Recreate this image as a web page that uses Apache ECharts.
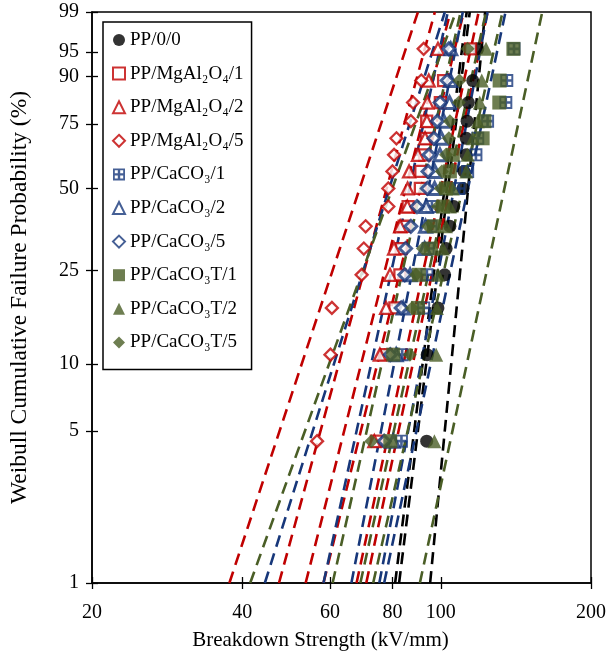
<!DOCTYPE html>
<html><head><meta charset="utf-8">
<script src="https://cdn.jsdelivr.net/npm/echarts@6/dist/echarts.min.js"></script>
<style>html,body{margin:0;padding:0;background:#fff}#c{width:609px;height:664px}</style>
</head><body><div id="c"></div>
<script>
// ---- data (breakdown strength in kV/mm) ----
const seriesNames = ['PP/0/0','PP/MgAl₂O₄/1','PP/MgAl₂O₄/2','PP/MgAl₂O₄/5','PP/CaCO₃/1','PP/CaCO₃/2','PP/CaCO₃/5','PP/CaCO₃T/1','PP/CaCO₃T/2','PP/CaCO₃T/5'];
// cumulative failure probability (%) of each ranked sample
const probLevels = [4.5, 11.0, 17.5, 24.0, 30.5, 37.0, 43.5, 50.0, 56.5, 63.0, 69.5, 76.0, 82.5, 89.0, 95.5];
const pp00   = [93.7, 93.9, 98.7, 101.8, 102.5, 104.3, 106.2, 110.8, 111.3, 112.4, 112.5, 112.9, 113.6, 115.9, 118.6];
const mgal1  = [74.3, 77.7, 80.9, 82.8, 83.3, 84.4, 86.0, 91.0, 91.2, 92.8, 93.5, 93.7, 99.8, 101.3, 114.7];
const mgal2  = [73.6, 75.5, 77.7, 79.1, 80.6, 82.9, 85.7, 85.8, 86.4, 90.0, 93.0, 93.8, 94.0, 94.6, 98.7];
const mgal5  = [56.5, 60.1, 60.5, 69.4, 70.1, 70.7, 78.5, 78.5, 80.0, 80.6, 81.5, 87.1, 88.0, 91.4, 92.4];
const caco1  = [83.4, 83.7, 92.4, 93.8, 94.3, 95.6, 96.0, 108.7, 113.2, 117.6, 118.6, 124.1, 135.0, 135.6, 140.2];
const caco2  = [80.3, 81.4, 84.1, 86.8, 92.8, 93.2, 93.5, 97.2, 97.3, 99.6, 100.3, 101.4, 104.1, 104.6, 104.7];
const caco5  = [77.0, 79.2, 83.3, 84.7, 85.0, 87.1, 89.6, 94.0, 94.3, 94.7, 96.9, 98.4, 99.7, 103.0, 103.8];
const cacoT1 = [79.2, 80.3, 90.0, 90.4, 95.6, 96.9, 101.0, 102.4, 104.3, 105.7, 121.3, 122.3, 131.0, 131.2, 139.8];
const cacoT2 = [97.1, 97.9, 98.2, 98.7, 101.0, 102.4, 104.3, 105.7, 112.5, 113.2, 115.9, 118.6, 119.7, 120.8, 123.2];
const cacoT5 = [72.6, 86.7, 87.6, 89.2, 92.1, 94.3, 98.7, 100.0, 100.5, 102.4, 103.8, 104.3, 108.7, 109.0, 113.2];
// dashed Weibull lines: [strength at 1 %, strength at 99 %]
const linesPP00   = [[81.0, 112.7], [82.5, 114.3], [95.2, 122.7]];
const linesMgal1  = [[58.2, 111.2], [70.9, 124.1]];
const linesMgal2  = [[47.4, 97.3], [67.8, 119.1]];
const linesMgal5  = [[37.7, 90.0], [53.6, 104.5]];
const linesCaco1  = [[75.3, 124.1], [77.0, 134.8]];
const linesCaco2  = [[58.2, 103.3]];
const linesCaco5  = [[44.4, 101.9], [66.2, 110.7]];
const linesCacoT1 = [[69.0, 123.2], [73.2, 133.0]];
const linesCacoT2 = [[90.8, 159.7]];
const linesCacoT5 = [[41.5, 107.2], [60.7, 109.6]];
const lineProbEnds = [1, 99];
const xTickLabels = [20, 40, 60, 80, 100, 200];
const yTickLabels = [1, 5, 10, 25, 50, 75, 90, 95, 99];

// ---- helpers ----
const W = p => Math.log(-Math.log(1 - p / 100));
const L = v => Math.log10(v);
const RED = '#C00000', BLUE = '#17377A', GREEN = '#4A5E26', BLACK = '#000000';
const FONT = '"Liberation Serif","Times New Roman",serif';

const values = [pp00, mgal1, mgal2, mgal5, caco1, caco2, caco5, cacoT1, cacoT2, cacoT5];
const lineSets = [linesPP00, linesMgal1, linesMgal2, linesMgal5, linesCaco1, linesCaco2, linesCaco5, linesCacoT1, linesCacoT2, linesCacoT5];
const colors = [BLACK, RED, RED, RED, BLUE, BLUE, BLUE, GREEN, GREEN, GREEN];
const checker = 'path://M0,0H10V10H0Z M1.5,1.5V4H4V1.5Z M6,1.5V4H8.5V1.5Z M1.5,6V8.5H4V6Z M6,6V8.5H8.5V6Z';
const styles = [
  {symbol: 'circle', size: 13, item: {color: BLACK}},
  {symbol: 'rect', size: 11, item: {color: '#fff', borderColor: RED, borderWidth: 2.3}},
  {symbol: 'triangle', size: 12, item: {color: '#fff', borderColor: RED, borderWidth: 2.3}},
  {symbol: 'diamond', size: 12, item: {color: '#fff', borderColor: RED, borderWidth: 2.3}},
  {symbol: checker, size: 13, item: {color: BLUE}},
  {symbol: 'triangle', size: 12, item: {color: '#fff', borderColor: BLUE, borderWidth: 3}},
  {symbol: 'diamond', size: 12, item: {color: '#fff', borderColor: BLUE, borderWidth: 3}},
  {symbol: 'rect', size: 14, item: {color: GREEN}},
  {symbol: 'triangle', size: 14, item: {color: GREEN}},
  {symbol: 'diamond', size: 14, item: {color: GREEN}}
];

const series = [];
lineSets.forEach((set, si) => {
  set.forEach((ln, li) => {
    series.push({
      type: 'line', name: seriesNames[si] + ' line ' + (li + 1), silent: true, z: 1,
      symbol: 'none', animation: false,
      data: ln.map((v, k) => [L(v), W(lineProbEnds[k])]),
      lineStyle: {color: colors[si], width: 2.6, type: [12, 7]}
    });
  });
});
values.forEach((vals, si) => {
  series.push({
    type: 'scatter', name: seriesNames[si], z: 3, animation: false,
    symbol: styles[si].symbol, symbolSize: styles[si].size,
    itemStyle: styles[si].item,
    data: vals.map((v, i) => [L(v), W(probLevels[i])])
  });
});

const xVals = xTickLabels.map(L), yVals = yTickLabels.map(W);
const xFmt = v => { const i = xVals.findIndex(t => Math.abs(t - v) < 1e-6); return i < 0 ? '' : String(xTickLabels[i]); };
const yFmt = v => { const i = yVals.findIndex(t => Math.abs(t - v) < 1e-6); return i < 0 ? '' : String(yTickLabels[i]); };
const axisLine = {show: true, onZero: false, lineStyle: {color: '#000', width: 1.5}};

const chart = echarts.init(document.getElementById('c'), null, {renderer: 'canvas'});
chart.setOption({
  animation: false,
  backgroundColor: '#fff',
  grid: {left: 92, right: 15, top: 12, bottom: 81, show: true, borderColor: '#000', borderWidth: 1.5, backgroundColor: 'transparent'},
  legend: {
    data: seriesNames, orient: 'vertical', left: 103, top: 22,
    padding: [8, 8, 17, 9], itemGap: 13.6, itemWidth: 12, itemHeight: 12,
    borderColor: '#000', borderWidth: 1.5, backgroundColor: '#fff',
    textStyle: {fontFamily: FONT, fontSize: 19, color: '#000', lineHeight: 20}
  },
  xAxis: [{
    type: 'value', min: L(20), max: L(200),
    axisLine: axisLine, splitLine: {show: false},
    axisTick: {show: true, inside: false, length: 6, customValues: xVals, lineStyle: {color: '#000', width: 1.3}},
    axisLabel: {customValues: xVals, formatter: xFmt, fontFamily: FONT, fontSize: 20, color: '#000', margin: 20},
    name: 'Breakdown Strength (kV/mm)', nameLocation: 'middle', nameGap: 47,
    nameTextStyle: {fontFamily: FONT, fontSize: 21, color: '#000', padding: [0, 42, 0, 0]}
  }, {
    type: 'value', min: L(20), max: L(200), position: 'bottom',
    axisLine: {show: false, onZero: false}, splitLine: {show: false},
    axisTick: {show: true, inside: true, length: 6, customValues: xVals, lineStyle: {color: '#000', width: 1.3}},
    axisLabel: {show: false, customValues: xVals}
  }],
  yAxis: [{
    type: 'value', min: W(1), max: W(99),
    axisLine: axisLine, splitLine: {show: false},
    axisTick: {show: true, inside: false, length: 6, customValues: yVals, lineStyle: {color: '#000', width: 1.3}},
    axisLabel: {customValues: yVals, formatter: yFmt, fontFamily: FONT, fontSize: 20, color: '#000', margin: 13},
    name: 'Weibull Cumulative Failure Probability (%)', nameLocation: 'middle', nameGap: 60, nameRotate: 90,
    nameTextStyle: {fontFamily: FONT, fontSize: 23.5, color: '#000'}
  }, {
    type: 'value', min: W(1), max: W(99), position: 'left',
    axisLine: {show: false, onZero: false}, splitLine: {show: false},
    axisTick: {show: true, inside: true, length: 6, customValues: yVals, lineStyle: {color: '#000', width: 1.3}},
    axisLabel: {show: false, customValues: yVals}
  }],
  series: series
});
</script></body></html>
